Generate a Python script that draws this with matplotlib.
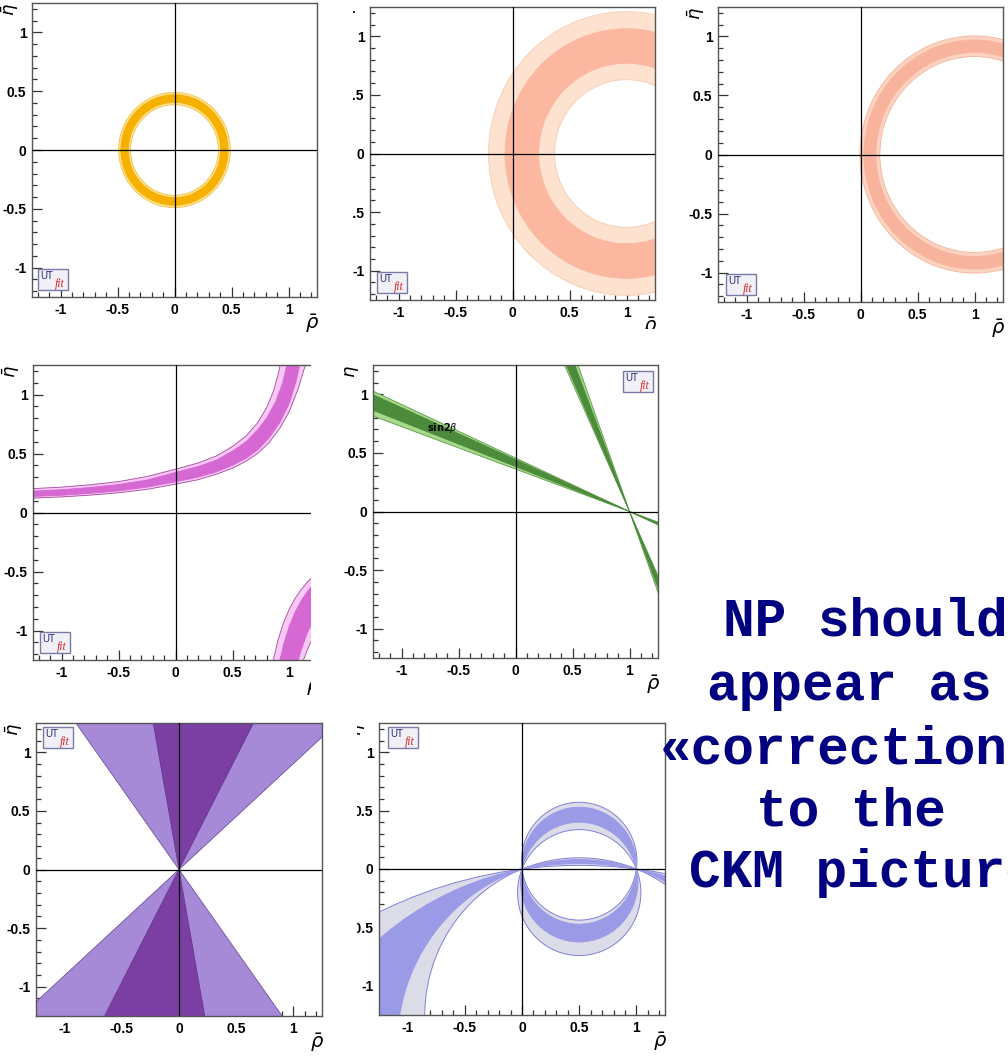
import numpy as np
import matplotlib.pyplot as plt
from matplotlib.patches import Annulus, Wedge, Polygon, PathPatch, Rectangle
from matplotlib.path import Path
from matplotlib.transforms import Affine2D
from matplotlib.ticker import MultipleLocator

W, H = 1008, 1059

# frame of every panel in pixels: left, top, right, bottom
box_vub = (32, 3, 317, 297)
box_dmd = (370, 7, 655, 300)
box_dms = (718, 7, 1003, 302)
box_epsk = (33, 365, 318, 660)
box_beta = (373, 365, 658, 658)
box_gamma = (36, 723, 322, 1016)
box_alpha = (379, 723, 665, 1015)

tick_pos = [-1, -0.5, 0, 0.5, 1]
tick_lab = ['-1', '-0.5', '0', '0.5', '1']

# |Vub/Vcb| ring around the origin: (inner, outer) radii
vub_light = (0.385, 0.49)
vub_dark = (0.405, 0.47)
# Delta m_d and Delta m_s rings around (1, 0)
dmd_light = (0.63, 1.21)
dmd_dark = (0.77, 1.065)
dms_light = (0.83, 1.005)
dms_dark = (0.865, 0.97)

# epsilon_K band, upper branch: edges as (rho, eta)
epsk_rho_a = [-1.3, -1.0, -0.75, -0.5, -0.25, 0.0, 0.2, 0.36, 0.5, 0.62, 0.72, 0.8, 0.86, 0.9, 0.93]
epsk_top_light = [0.20, 0.215, 0.235, 0.262, 0.305, 0.367, 0.42, 0.48, 0.56, 0.65, 0.76, 0.89, 1.03, 1.17, 1.30]
epsk_rho_b = [-1.3, -1.0, -0.75, -0.5, -0.25, 0.0, 0.2, 0.36, 0.5, 0.62, 0.72, 0.8, 0.88, 0.94, 0.99]
epsk_top_dark = [0.18, 0.193, 0.212, 0.237, 0.275, 0.34, 0.39, 0.445, 0.52, 0.60, 0.70, 0.80, 0.94, 1.10, 1.30]
epsk_rho_c = [-1.3, -1.0, -0.75, -0.5, -0.25, 0.0, 0.2, 0.36, 0.5, 0.62, 0.72, 0.82, 0.92, 1.0, 1.06, 1.1]
epsk_bot_dark = [0.134, 0.146, 0.162, 0.183, 0.215, 0.26, 0.30, 0.345, 0.40, 0.46, 0.53, 0.63, 0.77, 0.93, 1.12, 1.30]
epsk_rho_d = [-1.3, -1.0, -0.75, -0.5, -0.25, 0.0, 0.2, 0.36, 0.5, 0.62, 0.72, 0.82, 0.92, 1.0, 1.08, 1.13, 1.16]
epsk_bot_light = [0.12, 0.132, 0.147, 0.167, 0.196, 0.24, 0.278, 0.325, 0.375, 0.435, 0.50, 0.59, 0.72, 0.86, 1.06, 1.22, 1.30]
# lower branch
epsk2_rho_a = [0.85, 0.9, 0.95, 1.0, 1.05, 1.1, 1.15, 1.2, 1.3]
epsk2_top_light = [-1.284, -1.077, -0.928, -0.815, -0.727, -0.656, -0.597, -0.548, -0.47]
epsk2_rho_b = [0.91, 0.95, 1.0, 1.05, 1.1, 1.15, 1.2, 1.3]
epsk2_top_dark = [-1.274, -1.111, -0.959, -0.843, -0.752, -0.679, -0.619, -0.52]
epsk2_rho_c = [1.07, 1.1, 1.15, 1.2, 1.3]
epsk2_bot_dark = [-1.273, -1.173, -1.037, -0.929, -0.77]
epsk2_rho_d = [1.11, 1.15, 1.2, 1.3]
epsk2_bot_light = [-1.285, -1.179, -1.069, -0.90]

# sin2beta: beta ranges in degrees
beta_light = (19.9, 24.55)
beta_dark = (21.0, 23.9)
# gamma ranges in degrees
gamma_light = (42.1, 125.8)
gamma_dark = (62.5, 100.2)

# alpha: circles through (0,0) and (1,0), given by the eta of their centre
alpha_small_light = (0.067, -0.202)
alpha_small_dark = (0.028, -0.112)
alpha_big_light = (-4.0, -1.254)
alpha_big_dark = (-2.64, -1.51)

text_lines = ['NP should', 'appear as', '\u00abcorrections\u00bb', 'to the', 'CKM picture']
text_x = [723, 707, 660, 756, 689]
text_base = [635, 700, 763, 825, 887]

fig = plt.figure(figsize=(W / 100, H / 100), dpi=100)


def panel(box, logo):
    l, t, r, b = box
    ax = fig.add_axes([l / W, 1 - b / H, (r - l) / W, (b - t) / H])
    ax.set_xlim(-1.25, 1.25)
    ax.set_ylim(-1.25, 1.25)
    ax.set_xticks(tick_pos, tick_lab)
    ax.set_yticks(tick_pos, tick_lab)
    ax.xaxis.set_minor_locator(MultipleLocator(0.1))
    ax.yaxis.set_minor_locator(MultipleLocator(0.1))
    ax.tick_params(which='both', direction='in', top=False, right=False,
                   color='#333333', width=0.9)
    ax.tick_params(which='major', length=7.5, pad=4)
    ax.tick_params(which='minor', length=3.5)
    for lab in ax.get_xticklabels() + ax.get_yticklabels():
        lab.set_fontfamily('Liberation Sans')
        lab.set_fontweight('bold')
        lab.set_fontsize(10)
    for sp in ax.spines.values():
        sp.set_color('#555555')
        sp.set_linewidth(1.0)
    ax.axhline(0, color='black', lw=0.9, zorder=5)
    ax.axvline(0, color='black', lw=0.9, zorder=5)
    ax.annotate(r'$\bar{\rho}$', xy=(1, 0), xycoords='axes fraction',
                xytext=(-5, -15), textcoords='offset pixels',
                ha='center', va='top', fontsize=14)
    ax.annotate(r'$\bar{\eta}$', xy=(0, 1), xycoords='axes fraction',
                xytext=(-22, 0), textcoords='offset pixels',
                ha='center', va='top', rotation=90, fontsize=13)
    # UTfit badge
    lx, ly = logo
    w, h = 30 / (r - l), 21 / (b - t)
    ax.add_patch(Rectangle((lx, ly), w, h, transform=ax.transAxes,
                           facecolor='#f0f0f6', edgecolor='#7a7aa8', lw=1.0, zorder=6))
    ax.text(lx + 0.009, ly + h * 0.66, 'UT', transform=ax.transAxes, color='#2b2b7a',
            fontsize=7, ha='left', va='center', zorder=7, family='Liberation Sans')
    ax.text(lx + 0.058, ly + h * 0.30, 'fit', transform=ax.transAxes, color='#d42a2a',
            fontsize=8.5, style='italic', ha='left', va='center', zorder=7,
            family='Liberation Serif')
    return ax


def ring(ax, centre, radii, face, edge):
    ax.add_patch(Annulus(centre, radii[1], radii[1] - radii[0],
                         facecolor=face, edgecolor=edge, lw=0.6, zorder=2))


def band(ax, rho_a, eta_a, rho_b, eta_b, face, edge):
    pts = list(zip(rho_a, eta_a)) + list(zip(rho_b, eta_b))[::-1]
    ax.add_patch(Polygon(pts, closed=True, facecolor=face, edgecolor=edge,
                         lw=0.6, zorder=2))


def lune(ax, cs, face, edge):
    # symmetric difference of two circles through (0,0) and (1,0)
    paths = []
    for i, c in enumerate(cs):
        rad = np.hypot(0.5, c)
        flip = 1 if i == 0 else -1
        tr = Affine2D().scale(rad, flip * rad).translate(0.5, c)
        paths.append(Path.unit_circle().transformed(tr))
    ax.add_patch(PathPatch(Path.make_compound_path(*paths), facecolor=face,
                           edgecolor=edge, lw=0.7, zorder=2))


def double_wedge(ax, centre, th1, th2, face, edge):
    for off in (0, 180):
        ax.add_patch(Wedge(centre, 5, th1 + off, th2 + off, facecolor=face,
                           edgecolor=edge, lw=0.6, zorder=2))


# |Vub/Vcb|
ax1 = panel(box_vub, (0.021, 0.024))
ring(ax1, (0, 0), vub_light, '#fbe39a', '#f2c23a')
ring(ax1, (0, 0), vub_dark, '#f5b000', '#f5b000')

# Delta m_d
ax2 = panel(box_dmd, (0.025, 0.024))
ring(ax2, (1, 0), dmd_light, '#fde3cf', '#f7cbb0')
ring(ax2, (1, 0), dmd_dark, '#fbb7a0', '#fbb7a0')

# Delta m_d / Delta m_s
ax3 = panel(box_dms, (0.028, 0.024))
ring(ax3, (1, 0), dms_light, '#fcd3c0', '#f3b49c')
ring(ax3, (1, 0), dms_dark, '#f8b39d', '#f8b39d')

# epsilon_K
ax4 = panel(box_epsk, (0.025, 0.024))
band(ax4, epsk_rho_a, epsk_top_light, epsk_rho_d, epsk_bot_light, '#f7c9f4', '#a8449f')
band(ax4, epsk_rho_b, epsk_top_dark, epsk_rho_c, epsk_bot_dark, '#d668d4', '#d668d4')
band(ax4, epsk2_rho_a, epsk2_top_light, epsk2_rho_d, epsk2_bot_light, '#f7c9f4', '#a8449f')
band(ax4, epsk2_rho_b, epsk2_top_dark, epsk2_rho_c, epsk2_bot_dark, '#d668d4', '#d668d4')

# sin2beta
ax5 = panel(box_beta, (0.877, 0.908))
double_wedge(ax5, (1, 0), 180 - beta_light[1], 180 - beta_light[0], '#a6d98a', '#5a9a45')
double_wedge(ax5, (1, 0), 90 + beta_light[0], 90 + beta_light[1], '#a6d98a', '#5a9a45')
double_wedge(ax5, (1, 0), 180 - beta_dark[1], 180 - beta_dark[0], '#4b8b3b', '#4b8b3b')
double_wedge(ax5, (1, 0), 90 + beta_dark[0], 90 + beta_dark[1], '#4b8b3b', '#4b8b3b')
ax5.text(-0.64, 0.71, r'sin2$\beta$', fontsize=7, fontweight='bold',
         ha='center', va='center', zorder=4)

# gamma
ax6 = panel(box_gamma, (0.024, 0.915))
double_wedge(ax6, (0, 0), gamma_light[0], gamma_light[1], '#a68ad8', '#6f4fa0')
double_wedge(ax6, (0, 0), gamma_dark[0], gamma_dark[1], '#7b3ea3', '#6a3590')

# alpha
ax7 = panel(box_alpha, (0.031, 0.914))
lune(ax7, alpha_big_light, '#dcdce8', '#8080d8')
lune(ax7, alpha_small_light, '#dcdce8', '#8080d8')
lune(ax7, alpha_big_dark, '#9a9ae6', '#9a9ae6')
lune(ax7, alpha_small_dark, '#9a9ae6', '#9a9ae6')

# trimmed edges of the pasted panels
for x0, y0, x1, y1 in [(324, 0, 353, 345), (311, 340, 343, 692),
                       (325, 692, 357, H), (340, 329, 672, 346)]:
    fig.add_artist(Rectangle((x0 / W, 1 - y1 / H), (x1 - x0) / W, (y1 - y0) / H,
                             transform=fig.transFigure, facecolor='white',
                             edgecolor='none', zorder=20))

for s, x, y in zip(text_lines, text_x, text_base):
    fig.text(x / W, 1 - y / H, s, family='Liberation Mono', fontweight='bold',
             fontsize=38, color='#000080', ha='left', va='baseline', zorder=30)

fig.savefig('out.png', dpi=100)
